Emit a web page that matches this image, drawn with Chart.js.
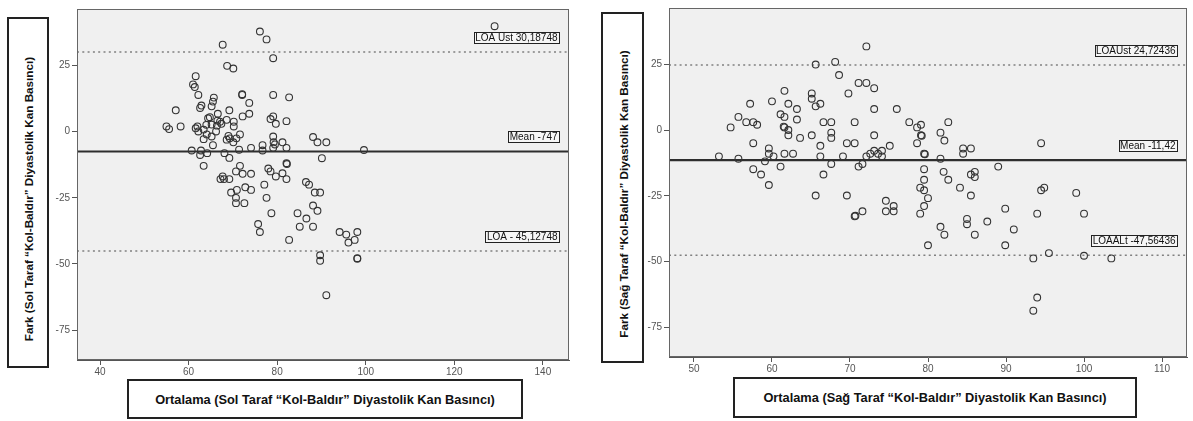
<!DOCTYPE html>
<html>
<head>
<meta charset="utf-8">
<script src="https://cdn.jsdelivr.net/npm/chart.js@4.4.0/dist/chart.umd.min.js"></script>
<style>
  body { margin: 0; background: #fff; width: 1193px; height: 421px; overflow: hidden; position: relative;
         font-family: "Liberation Sans", Arial, sans-serif; }
  .panel { position: absolute; top: 0; }
  .ybox { position: absolute; border: 2px solid #222; box-sizing: border-box; background: #fff; }
  .ybox span { position: absolute; left: 50%; top: 50%; transform: translate(-50%, -50%) rotate(-90deg);
               white-space: nowrap; font-weight: bold; font-size: 11.7px; color: #111; margin-top: 6px; }
  .xbox { position: absolute; border: 2px solid #222; box-sizing: border-box; background: #fff;
          display: flex; align-items: center; justify-content: center;
          font-weight: bold; font-size: 12.8px; color: #111; white-space: nowrap; }
</style>
</head>
<body>
<div class="panel" style="left:0;width:590px;height:421px"><canvas id="left" width="590" height="421"></canvas></div>
<div class="panel" style="left:590px;width:603px;height:421px"><canvas id="right" width="603" height="421"></canvas></div>

<div class="ybox" style="left:7px;top:17px;width:42px;height:351px"><span>Fark (Sol Taraf “Kol-Baldır” Diyastolik Kan Basıncı)</span></div>
<div class="xbox" style="left:127px;top:379px;width:396px;height:40px">Ortalama (Sol Taraf “Kol-Baldır” Diyastolik Kan Basıncı)</div>
<div class="ybox" style="left:601px;top:12px;width:43px;height:351px"><span>Fark (Sağ Taraf “Kol-Baldır” Diyastolik Kan Basıncı)</span></div>
<div class="xbox" style="left:733px;top:377px;width:404px;height:41px">Ortalama (Sağ Taraf “Kol-Baldır” Diyastolik Kan Basıncı)</div>

<script>
// left panel: Sol Taraf
const leftX = [76.1, 77.6, 67.7, 79.1, 68.7, 70.1, 61.6, 61.0, 61.4, 62.2, 72.1, 72.1, 79.1, 82.7, 65.7, 65.5,
  73.7, 62.9, 62.6, 65.2, 57.1, 69.2, 66.6, 73.7, 72.2, 79.1, 78.5, 82.1, 79.7, 70.2, 70.2, 64.8, 66.5, 67.4,
  65.2, 68.6, 55.0, 55.6, 58.2, 61.6, 62.0, 62.2, 63.4, 64.1, 65.2, 66.2, 63.4, 69.3, 70.1, 69.0, 71.6, 71.4,
  65.5, 60.7, 62.8, 64.2, 62.6, 68.1, 69.2, 74.1, 76.7, 76.7, 79.1, 79.2, 79.5, 81.2, 82.1, 79.1, 63.4, 71.6,
  70.7, 72.2, 74.1, 78.0, 78.5, 82.1, 82.2, 79.7, 81.2, 82.1, 67.2, 68.0, 69.2, 67.7, 77.1, 69.6, 70.9, 72.8,
  74.1, 70.7, 77.6, 70.7, 72.6, 78.7, 75.7, 76.1, 82.7, 84.6, 85.1, 88.1, 89.1, 91.1, 99.6, 90.1, 86.5, 87.2,
  88.5, 89.7, 88.1, 89.1, 86.6, 88.1, 94.1, 95.6, 98.1, 96.1, 97.5, 89.7, 89.7, 98.1, 98.1, 91.1, 129.1,
  64.0, 66.4, 67.1, 64.4, 68.6, 70.8];
const leftY = [37.9, 34.9, 32.9, 27.8, 24.9, 23.9, 21.0, 17.9, 16.9, 13.9, 13.9, 14.2, 13.9, 13.0, 12.9, 11.4,
  10.9, 9.9, 9.0, 9.6, 8.1, 8.1, 6.8, 6.8, 5.8, 5.8, 4.8, 4.0, 3.0, 3.8, 2.0, 5.5, 4.2, 3.0,
  2.7, 4.5, 2.0, 1.0, 2.0, 1.3, 2.0, 0.1, 0.8, -1.0, -1.8, 0.1, -2.8, -2.5, -4.0, -1.6, -1.0, -6.8,
  -5.1, -7.1, -7.1, -8.1, -8.8, -8.1, -9.9, -6.1, -5.1, -7.1, -1.8, -4.0, -4.8, -4.0, -6.1, -6.1, -12.9, -12.9,
  -15.0, -15.9, -15.9, -13.9, -15.0, -11.9, -12.2, -16.9, -15.7, -17.9, -17.9, -17.9, -17.9, -16.9, -20.0, -23.0, -22.0, -21.0,
  -22.0, -25.0, -25.0, -27.0, -27.0, -30.8, -34.9, -37.9, -40.9, -30.8, -35.9, -2.0, -4.0, -4.0, -6.9, -10.0, -19.0, -20.0,
  -23.0, -23.0, -27.9, -29.9, -32.8, -35.9, -37.9, -38.9, -37.9, -41.9, -40.9, -46.7, -48.8, -47.8, -48.0, -61.8, 39.9,
  2.6, 2.3, 3.8, 5.1, -3.0, -2.5];
const leftMean = -7.47;
const leftUpper = 30.18748;
const leftLower = -45.12748;
const leftLabels = ["LOA Üst 30,18748", "Mean -747", "LOA - 45,12748"];
const leftXTicks = [40, 60, 80, 100, 120, 140];

// right panel: Sağ Taraf
const rightX = [65.6, 68.1, 68.6, 69.8, 61.6, 57.2, 60.0, 62.1, 63.2, 65.1, 65.1, 65.6, 66.2, 55.7, 54.7, 56.7,
  57.6, 58.1, 61.1, 61.6, 63.2, 61.6, 61.5, 62.1, 62.1, 63.6, 65.1, 66.6, 67.6, 67.6, 67.6, 69.6, 66.2, 57.6,
  59.6, 59.6, 60.2, 61.6, 62.7, 53.2, 55.7, 59.1, 57.6, 58.6, 59.6, 61.1, 66.2, 69.1, 67.6, 66.6, 65.6, 69.6,
  72.1, 71.1, 72.1, 73.1, 73.1, 76.0, 70.6, 73.1, 77.6, 78.6, 79.1, 79.1, 79.2, 81.6, 82.6, 82.1, 78.6, 75.1,
  70.6, 72.1, 72.6, 73.1, 73.6, 74.1, 74.1, 71.1, 71.6, 79.5, 79.6, 81.6, 84.5, 84.5, 85.5, 89.0, 79.5, 79.5,
  79.0, 79.5, 80.0, 79.5, 79.0, 82.0, 82.6, 84.1, 85.5, 86.0, 86.0, 85.5, 74.6, 75.6, 74.6, 75.6, 71.6, 70.6,
  70.7, 81.6, 82.1, 80.0, 85.0, 85.0, 87.6, 86.0, 89.9, 89.9, 94.5, 94.5, 94.9, 99.0, 91.0, 94.0, 100.0, 93.5,
  95.5, 100.0, 103.5, 94.0, 93.5];
const rightY = [24.9, 25.9, 20.9, 13.9, 14.9, 10.0, 10.9, 10.0, 8.0, 13.9, 11.9, 9.0, 10.0, 5.0, 1.0, 3.0,
  3.0, 2.0, 6.0, 5.0, 4.0, 1.0, 1.3, 0.0, -2.0, -3.0, -2.0, 3.0, 3.0, -1.0, -3.0, -5.0, -6.0, -5.0,
  -7.0, -9.0, -10.0, -9.0, -9.0, -10.0, -10.9, -11.9, -14.9, -16.9, -20.9, -13.9, -10.0, -10.0, -12.9, -16.9, -24.9, -24.9,
  31.8, 17.9, 17.9, 15.9, 8.0, 8.0, 3.0, -2.0, 3.0, 1.0, 2.0, -2.0, -2.2, -1.0, 3.0, -4.0, -5.0, -6.0,
  -5.0, -10.0, -9.0, -7.9, -9.0, -7.9, -10.0, -13.9, -12.9, -9.0, -9.2, -10.9, -7.0, -9.0, -7.0, -13.9, -14.9, -18.9,
  -21.9, -22.9, -25.9, -28.9, -31.8, -15.9, -18.9, -21.9, -16.9, -15.9, -17.9, -24.9, -26.9, -28.9, -30.9, -30.9, -30.9, -32.8,
  -32.6, -36.8, -39.8, -43.8, -33.8, -35.8, -34.8, -39.8, -29.9, -43.8, -5.0, -22.9, -21.9, -23.9, -37.8, -31.8, -31.8, -48.8,
  -46.8, -47.8, -48.8, -63.7, -68.7];
const rightMean = -11.42;
const rightUpper = 24.72436;
const rightLower = -47.56436;
const rightLabels = ["LOAÜst 24,72436", "Mean -11,42", "LOAALt -47,56436"];
const rightXTicks = [50, 60, 70, 80, 90, 100, 110];

const yTicks = [25, 0, -25, -50, -75];

const FONT = '"Liberation Sans", Arial, sans-serif';

// grey plot area, frame and the boxed line labels
const framePlugin = {
  id: "frame",
  beforeDraw(chart) {
    const a = chart.chartArea, ctx = chart.ctx;
    ctx.save();
    ctx.fillStyle = "#f0f0f0";
    ctx.fillRect(a.left, a.top, a.width, a.height);
    ctx.restore();
  },
  afterDraw(chart) {
    const a = chart.chartArea, ctx = chart.ctx;
    const opts = chart.options.plugins.frame;
    ctx.save();
    ctx.strokeStyle = "#666";
    ctx.lineWidth = 1;
    ctx.strokeRect(Math.round(a.left) + 0.5, Math.round(a.top) + 0.5, Math.round(a.width) - 1, Math.round(a.height) - 1);

    ctx.font = "10px " + FONT;
    ctx.textBaseline = "middle";
    const yScale = chart.scales.y;
    opts.values.forEach((v, i) => {
      const text = opts.labels[i];
      const cy = Math.round(yScale.getPixelForValue(v)) - 14;
      const w = ctx.measureText(text).width;
      const right = a.right - 10;
      const left = right - w - 3;
      ctx.fillStyle = "#f6f6f6";
      ctx.fillRect(left, cy - 6, w + 3, 12);
      ctx.strokeStyle = "#222";
      ctx.strokeRect(Math.round(left) + 0.5, cy - 5.5, Math.round(w + 3), 11);
      ctx.fillStyle = "#111";
      ctx.fillText(text, left + 1.5, cy + 0.5);
    });
    ctx.restore();
  }
};

function hLine(v, xMin, xMax, solid) {
  return {
    data: [{ x: xMin, y: v }, { x: xMax, y: v }],
    showLine: true,
    pointRadius: 0,
    borderColor: solid ? "#2e2e2e" : "#808080",
    borderWidth: solid ? 2.2 : 1.5,
    borderDash: solid ? [] : [2, 3.3]
  };
}

function makeChart(id, xs, ys, mean, upper, lower, labels, xTicks, xMin, xMax, yWidth, pad) {
  const points = xs.map((x, i) => ({ x: x, y: ys[i] }));
  new Chart(document.getElementById(id), {
    type: "scatter",
    data: {
      datasets: [
        {
          data: points,
          pointRadius: 3.4,
          pointBorderWidth: 1.1,
          pointBorderColor: "#333",
          pointBackgroundColor: "rgba(0,0,0,0)"
        },
        hLine(mean, xMin, xMax, true),
        hLine(upper, xMin, xMax, false),
        hLine(lower, xMin, xMax, false)
      ]
    },
    options: {
      responsive: false,
      animation: false,
      layout: { padding: pad },
      scales: {
        x: {
          type: "linear",
          min: xMin,
          max: xMax,
          afterBuildTicks: s => { s.ticks = xTicks.map(v => ({ value: v })); },
          afterFit: s => { s.height = 20; },
          grid: { drawOnChartArea: false, drawTicks: true, tickLength: 5, color: "#555" },
          border: { display: true, color: "#555" },
          ticks: { color: "#555", font: { family: FONT, size: 10 }, padding: 1, maxRotation: 0 }
        },
        y: {
          type: "linear",
          min: -86.3,
          max: 46.4,
          afterBuildTicks: s => { s.ticks = yTicks.map(v => ({ value: v })); },
          afterFit: s => { s.width = yWidth; },
          grid: { drawOnChartArea: false, drawTicks: true, tickLength: 5, color: "#555" },
          border: { display: true, color: "#555" },
          ticks: { color: "#555", font: { family: FONT, size: 10 }, padding: 2 }
        }
      },
      plugins: {
        legend: { display: false },
        tooltip: { enabled: false },
        frame: { values: [upper, mean, lower], labels: labels }
      }
    },
    plugins: [framePlugin]
  });
}

makeChart("left", leftX, leftY, leftMean, leftUpper, leftLower, leftLabels, leftXTicks, 34.8, 145.9, 77,
  { left: 0, right: 21, top: 9, bottom: 41 });
makeChart("right", rightX, rightY, rightMean, rightUpper, rightLower, rightLabels, rightXTicks, 46.8, 113.2, 79,
  { left: 0, right: 6, top: 2, bottom: 44 });
</script>
</body>
</html>
